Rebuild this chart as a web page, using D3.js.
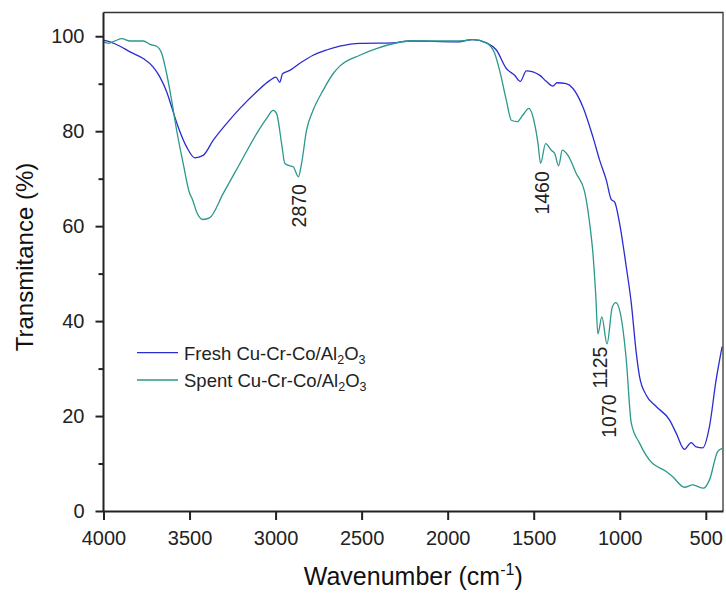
<!DOCTYPE html>
<html>
<head>
<meta charset="utf-8">
<script src="https://cdn.jsdelivr.net/npm/d3@7"></script>
<style>
  html, body { margin: 0; padding: 0; background: #fff; }
  svg { display: block; font-family: "Liberation Sans", Arial, sans-serif; }
</style>
</head>
<body>
<svg id="chart" width="726" height="594"></svg>
<script>
// ---- data (wavenumber cm-1, transmittance %) ----
const freshWn = [4000,3962,3904,3846,3769,3711,3672,3633,3604,3566,3517,3469,3421,3362,3285,3207,3110,3033,2998,2975,2960,2917,2859,2782,2704,2627,2511,2319,2220,1949,1855,1775,1717,1659,1611,1578,1543,1466,1427,1388,1365,1311,1272,1214,1156,1117,1078,1049,1030,1001,962,933,904,885,846,788,711,672,624,585,556,517,479,440,405];
const freshT  = [99.2,98.8,97.9,96.7,95.3,93.5,91.4,88.3,85.1,80.9,76.7,74.4,74.9,78.1,81.6,84.8,88.3,90.7,91.4,90.3,92.1,92.8,94.3,96.0,97.1,97.9,98.5,98.6,99.0,98.8,99.3,98.6,97.1,93.2,91.8,90.5,92.7,91.8,90.5,89.5,90.2,90.0,89.0,85.1,78.8,73.9,69.7,65.6,65.1,60.6,51.4,43.8,33.3,28.3,24.4,22.0,19.2,16.4,13.0,14.4,13.5,13.3,17.7,27.6,34.6];

const spentWn = [4000,3972,3933,3894,3846,3769,3730,3691,3662,3633,3604,3575,3537,3502,3482,3459,3421,3382,3304,3207,3110,3052,3014,2994,2965,2946,2917,2898,2867,2849,2820,2782,2724,2666,2627,2511,2414,2220,1930,1853,1775,1727,1698,1659,1630,1597,1563,1528,1495,1475,1460,1431,1398,1378,1355,1334,1301,1253,1204,1175,1156,1140,1127,1104,1074,1043,1023,991,962,933,885,827,730,692,624,576,513,479,431,405];
const spentT  = [98.8,98.5,99.0,99.5,99.0,99.0,98.3,97.9,96.4,92.1,86.5,80.2,73.2,67.2,65.5,63.0,61.4,61.8,66.9,73.2,79.5,82.7,84.4,83.7,77.4,73.2,72.7,72.5,70.4,73.2,80.2,84.4,88.6,92.1,93.7,96.0,97.4,99.0,99.0,99.3,98.6,96.4,92.8,86.5,82.3,82.0,83.4,84.8,81.6,77.4,73.2,77.4,76.0,75.3,72.7,76.0,74.9,71.1,67.2,60.6,54.3,45.8,37.3,40.9,35.2,43.0,43.9,40.6,31.8,18.5,14.3,10.7,8.3,7.2,5.0,5.5,4.8,6.5,12.5,13.2];

const xTicks = [4000,3500,3000,2500,2000,1500,1000,500];
const yTicks = [0,20,40,60,80,100];
const yMinorTicks = [10,30,50,70,90];

const annText = ["2870","1460","1125","1070"];
const annWn   = [2870,1460,1125,1070];
const annT    = [64.3,67.0,30.2,20.0];

const seriesNames = ["Fresh Cu-Cr-Co/Al", "Spent Cu-Cr-Co/Al"];
const seriesColors = ["#2b2bd2", "#2a988c"];

// ---- layout ----
const svg = d3.select("#chart");
const L = 103.5, R = 723, T = 12.5, B = 511;

const x = d3.scaleLinear().domain([4000, 400]).range([L, R]);
const y = d3.scaleLinear().domain([0, 105]).range([B, T]);

// frame (top & right)
svg.append("path")
  .attr("d", `M${L},${T}H${R}V${B}`)
  .attr("fill", "none").attr("stroke", "#333").attr("stroke-width", 1.3);

// lines
const line = d3.line().x(d => x(d[0])).y(d => y(d[1])).curve(d3.curveMonotoneX);
const fresh = freshWn.map((w, i) => [w, freshT[i]]);
const spent = spentWn.map((w, i) => [w, spentT[i]]);

svg.append("path").datum(fresh).attr("d", line)
  .attr("fill", "none").attr("stroke", seriesColors[0]).attr("stroke-width", 1.3);
svg.append("path").datum(spent).attr("d", line)
  .attr("fill", "none").attr("stroke", seriesColors[1]).attr("stroke-width", 1.3);

// x axis
const xAxis = svg.append("g").attr("transform", `translate(0,${B})`)
  .call(d3.axisBottom(x).tickValues(xTicks).tickSize(9).tickPadding(11).tickSizeOuter(0).tickFormat(d3.format("d")));
xAxis.select(".domain").attr("stroke", "#222").attr("stroke-width", 2);
xAxis.selectAll(".tick line").attr("stroke", "#222").attr("stroke-width", 2);
xAxis.selectAll("text").attr("font-size", 20).attr("fill", "#222").attr("font-family", "Liberation Sans, Arial, sans-serif");

// y axis
const yAxis = svg.append("g").attr("transform", `translate(${L},0)`)
  .call(d3.axisLeft(y).tickValues(yTicks).tickSize(8).tickPadding(11).tickSizeOuter(0));
yAxis.select(".domain").attr("stroke", "#222").attr("stroke-width", 2)
  .attr("d", `M0,${B}V${T}`);
yAxis.selectAll(".tick line").attr("stroke", "#222").attr("stroke-width", 2);
yAxis.selectAll("text").attr("font-size", 20).attr("fill", "#222").attr("font-family", "Liberation Sans, Arial, sans-serif");

svg.append("g").attr("transform", `translate(${L},0)`)
  .call(d3.axisLeft(y).tickValues(yMinorTicks).tickSize(5).tickFormat(""))
  .call(g => g.select(".domain").remove())
  .selectAll(".tick line").attr("stroke", "#222").attr("stroke-width", 2);

// axis titles
const xt = svg.append("text")
  .attr("x", (L + R) / 2).attr("y", 585)
  .attr("text-anchor", "middle").attr("font-size", 25).attr("fill", "#111");
xt.append("tspan").text("Wavenumber (cm");
xt.append("tspan").attr("font-size", 16).attr("dy", -10).text("-1");
xt.append("tspan").attr("dy", 10).text(")");

svg.append("text")
  .attr("transform", `translate(33,257) rotate(-90)`)
  .attr("text-anchor", "middle").attr("font-size", 24).attr("fill", "#111")
  .text("Transmitance (%)");

// annotations
annText.forEach((t, i) => {
  svg.append("text")
    .attr("transform", `translate(${x(annWn[i]) + 8.5},${y(annT[i])}) rotate(-90)`)
    .attr("text-anchor", "middle").attr("font-size", 19.5).attr("fill", "#222")
    .text(t);
});

// legend
const legY = [352.7, 380];
seriesNames.forEach((name, i) => {
  svg.append("line")
    .attr("x1", 137).attr("x2", 178).attr("y1", legY[i]).attr("y2", legY[i])
    .attr("stroke", seriesColors[i]).attr("stroke-width", 1.3);
  const tx = svg.append("text")
    .attr("x", 184).attr("y", legY[i] + 7)
    .attr("font-size", 18.5).attr("fill", "#222");
  tx.append("tspan").text(name);
  tx.append("tspan").attr("font-size", 12.5).attr("dy", 4).text("2");
  tx.append("tspan").attr("dy", -4).text("O");
  tx.append("tspan").attr("font-size", 12.5).attr("dy", 4).text("3");
});
</script>
</body>
</html>
